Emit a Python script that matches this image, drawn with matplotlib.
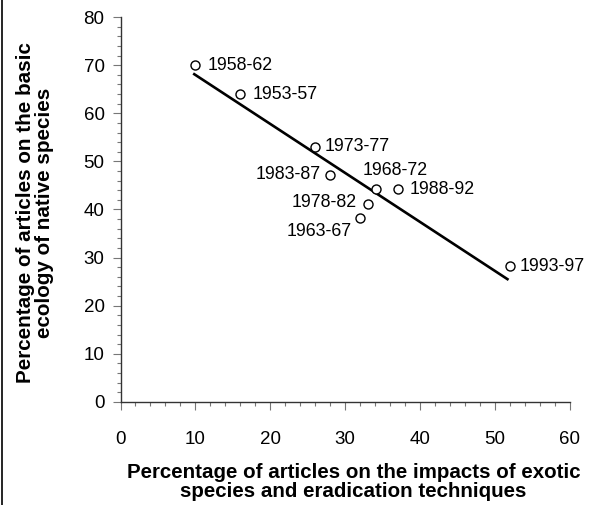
import numpy as np
import matplotlib.pyplot as plt
from matplotlib.lines import Line2D
from matplotlib.ticker import MultipleLocator

plt.rcParams["font.family"] = ["Liberation Sans", "DejaVu Sans"]

periods = ["1958-62", "1953-57", "1973-77", "1983-87", "1968-72",
           "1988-92", "1978-82", "1963-67", "1993-97"]
pct_exotic = [10, 16, 26, 28, 34.1, 37, 33, 32, 52]
pct_native = [70, 64, 53, 47.2, 44.2, 44.2, 41.2, 38.2, 28.2]

# label offsets in points and alignment for each period
label_pos = {
    "1958-62": (9, 0, "left", "center"),
    "1953-57": (8.5, 0, "left", "center"),
    "1973-77": (7, 0, "left", "center"),
    "1983-87": (-7, 0, "right", "center"),
    "1968-72": (14, 13.5, "center", "center"),
    "1988-92": (8.5, 0, "left", "center"),
    "1978-82": (-8, 1, "right", "center"),
    "1963-67": (-6, -9.5, "right", "center"),
    "1993-97": (7, 0, "left", "center"),
}

fig = plt.figure(figsize=(5.89, 5.05), dpi=100)
ax = fig.add_axes([0.2046, 0.204, 0.7631, 0.7623])

x = np.array(pct_exotic)
y = np.array(pct_native)
slope, intercept = np.polyfit(x, y, 1)
xs = np.array([x.min() - 0.3, x.max() - 0.2])
ax.plot(xs, slope * xs + intercept, color="black", lw=1.9, solid_capstyle="butt")

ax.plot(x, y, "o", mfc="white", mec="black", ms=6.5, mew=1.0, zorder=3)

for name, xi, yi in zip(periods, pct_exotic, pct_native):
    dx, dy, ha, va = label_pos[name]
    ax.annotate(name, (xi, yi), xytext=(dx, dy), textcoords="offset points",
                ha=ha, va=va, fontsize=12.8)

ax.set_xlim(0, 60)
ax.set_ylim(0, 80)
ax.xaxis.set_major_locator(MultipleLocator(10))
ax.xaxis.set_minor_locator(MultipleLocator(2))
ax.yaxis.set_major_locator(MultipleLocator(10))
ax.yaxis.set_minor_locator(MultipleLocator(2))

for side in ["top", "right"]:
    ax.spines[side].set_visible(False)
for side in ["left", "bottom"]:
    ax.spines[side].set_color("#333333")
    ax.spines[side].set_linewidth(1.0)

ax.tick_params(axis="x", which="major", length=6, width=0.8, color="#777777",
               pad=15, labelsize=13.5)
ax.tick_params(axis="y", which="major", length=5.5, width=0.8, color="#777777",
               pad=6, labelsize=13.5)
ax.tick_params(which="minor", length=3, width=0.8, color="#777777")

ax.set_xlabel("Percentage of articles on the impacts of exotic\nspecies and eradication techniques",
              fontsize=14.8, fontweight="bold", linespacing=1.02)
ax.xaxis.set_label_coords(0.518, -0.158, transform=ax.transAxes)
ax.xaxis.label.set_va("top")
ax.set_ylabel("Percentage of articles on the basic\necology of native species",
              fontsize=14.9, fontweight="bold", linespacing=1.0)
ax.yaxis.set_label_coords(-0.148, 0.492, transform=ax.transAxes)

fig.add_artist(Line2D([0.003, 0.003], [0, 1], color="black", lw=1.2,
                      transform=fig.transFigure))

fig.savefig("out.png", dpi=100)
